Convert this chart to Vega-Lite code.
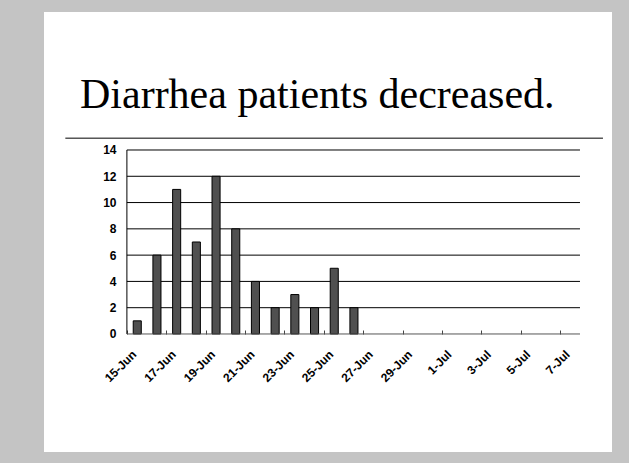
{
  "$schema": "https://vega.github.io/schema/vega-lite/v6.json",
  "autosize": "none",
  "width": 568,
  "height": 440,
  "padding": {"left": 44, "top": 12, "right": 17, "bottom": 11},
  "background": "#c4c4c4",
  "config": {"view": {"fill": "white", "stroke": null}},
  "title": {
    "text": "Diarrhea patients decreased.",
    "anchor": "start",
    "frame": "group",
    "orient": "top",
    "offset": 0,
    "dx": 36,
    "dy": 138,
    "baseline": "alphabetic",
    "font": "Liberation Serif",
    "fontSize": 42,
    "fontWeight": "normal",
    "color": "black"
  },
  "datasets": {
    "cases": [
      {"date": "2007-06-15", "patients": 1},
      {"date": "2007-06-16", "patients": 6},
      {"date": "2007-06-17", "patients": 11},
      {"date": "2007-06-18", "patients": 7},
      {"date": "2007-06-19", "patients": 12},
      {"date": "2007-06-20", "patients": 8},
      {"date": "2007-06-21", "patients": 4},
      {"date": "2007-06-22", "patients": 2},
      {"date": "2007-06-23", "patients": 3},
      {"date": "2007-06-24", "patients": 2},
      {"date": "2007-06-25", "patients": 5},
      {"date": "2007-06-26", "patients": 2}
    ],
    "gridlines": [
      {"level": 2}, {"level": 4}, {"level": 6}, {"level": 8},
      {"level": 10}, {"level": 12}, {"level": 14}
    ]
  },
  "layer": [
    {
      "data": {"name": "gridlines"},
      "mark": {"type": "rule", "color": "black", "strokeWidth": 1},
      "encoding": {
        "x": {"datum": {"year": 2007, "month": 6, "date": 15, "utc": true}, "type": "temporal"},
        "x2": {"datum": {"year": 2007, "month": 7, "date": 8, "utc": true}},
        "y": {"field": "level", "type": "quantitative"}
      }
    },
    {
      "data": {"name": "cases"},
      "mark": {"type": "bar", "fill": "#505050", "stroke": "black", "strokeWidth": 1, "width": {"band": 0.46}},
      "encoding": {
        "x": {
          "field": "date",
          "timeUnit": "utcyearmonthdate",
          "type": "temporal",
          "scale": {
            "type": "utc",
            "domain": [
              {"year": 2007, "month": 6, "date": 10, "hours": 19, "utc": true},
              {"year": 2007, "month": 7, "date": 9, "hours": 15, "utc": true}
            ]
          },
          "axis": {
            "title": null,
            "offset": -118,
            "domain": false,
            "grid": false,
            "values": [
              {"year": 2007, "month": 6, "date": 15, "utc": true},
              {"year": 2007, "month": 6, "date": 17, "utc": true},
              {"year": 2007, "month": 6, "date": 19, "utc": true},
              {"year": 2007, "month": 6, "date": 21, "utc": true},
              {"year": 2007, "month": 6, "date": 23, "utc": true},
              {"year": 2007, "month": 6, "date": 25, "utc": true},
              {"year": 2007, "month": 6, "date": 27, "utc": true},
              {"year": 2007, "month": 6, "date": 29, "utc": true},
              {"year": 2007, "month": 7, "date": 1, "utc": true},
              {"year": 2007, "month": 7, "date": 3, "utc": true},
              {"year": 2007, "month": 7, "date": 5, "utc": true},
              {"year": 2007, "month": 7, "date": 7, "utc": true}
            ],
            "labelExpr": "utcFormat(datum.value, '%-d-%b')",
            "labelAngle": -45,
            "labelAlign": "right",
            "labelBaseline": "middle",
            "labelPadding": 22,
            "labelOffset": 7,
            "labelFont": "Liberation Sans",
            "labelFontWeight": "bold",
            "labelFontSize": 12,
            "labelColor": "black",
            "tickSize": -4,
            "tickColor": "#444444",
            "labelOverlap": false,
            "labelBound": false
          }
        },
        "y": {
          "field": "patients",
          "type": "quantitative",
          "scale": {"domain": [-8.98, 24.5], "nice": false, "zero": false},
          "axis": {
            "title": null,
            "offset": -83,
            "domain": false,
            "grid": false,
            "ticks": false,
            "values": [0, 2, 4, 6, 8, 10, 12, 14],
            "labelPadding": 11,
            "labelFont": "Liberation Sans",
            "labelFontWeight": "bold",
            "labelFontSize": 12,
            "labelColor": "black"
          }
        },
        "y2": {"datum": 0}
      }
    },
    {
      "data": {"values": [{}]},
      "mark": {"type": "rule", "color": "black", "strokeWidth": 1},
      "encoding": {
        "x": {"datum": {"year": 2007, "month": 6, "date": 15, "utc": true}, "type": "temporal"},
        "y": {"datum": 0, "type": "quantitative"},
        "y2": {"datum": 14}
      }
    },
    {
      "data": {"values": [{}]},
      "mark": {"type": "rule", "color": "#555555", "strokeWidth": 1},
      "encoding": {
        "x": {"datum": {"year": 2007, "month": 6, "date": 15, "utc": true}, "type": "temporal"},
        "x2": {"datum": {"year": 2007, "month": 7, "date": 8, "utc": true}},
        "y": {"datum": 0, "type": "quantitative"}
      }
    },
    {
      "data": {"values": [{}]},
      "mark": {"type": "rule", "color": "black", "strokeWidth": 1},
      "encoding": {
        "x": {"datum": {"year": 2007, "month": 6, "date": 11, "hours": 21, "utc": true}, "type": "temporal"},
        "x2": {"datum": {"year": 2007, "month": 7, "date": 9, "hours": 4, "utc": true}},
        "y": {"datum": 14.9, "type": "quantitative"}
      }
    }
  ]
}
